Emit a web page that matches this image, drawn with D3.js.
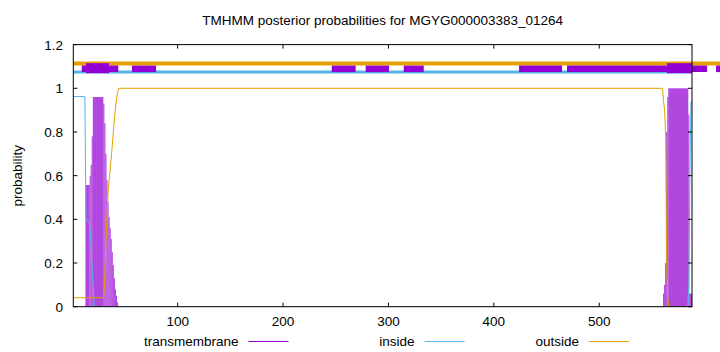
<!DOCTYPE html>
<html>
<head>
<meta charset="utf-8">
<script src="https://cdn.jsdelivr.net/npm/d3@7"></script>
<style>
  body { margin: 0; background: #fff; }
  svg { display: block; font-family: "Liberation Sans", Arial, sans-serif; }
</style>
</head>
<body>
<div id="chart"></div>
<script>
var chartTitle = "TMHMM posterior probabilities for MGYG000003383_01264";
var seqLength = 588;
var xTicks = [100, 200, 300, 400, 500];
var yTicks = [0, 0.2, 0.4, 0.6, 0.8, 1, 1.2];

/* transmembrane posterior, as runs of residues [from, to, value] */
var tmRuns = [
    [13, 16, 0.557], [17, 17, 0.60], [18, 18, 0.65], [19, 19, 0.78],
    [20, 29, 0.96], [30, 30, 0.93], [31, 31, 0.84], [32, 32, 0.70],
    [33, 33, 0.58], [34, 34, 0.48], [35, 35, 0.41], [36, 36, 0.36],
    [37, 37, 0.31], [38, 38, 0.25], [39, 39, 0.19], [40, 40, 0.13],
    [41, 41, 0.08], [42, 42, 0.05], [43, 43, 0.02],
    [561, 561, 0.06], [562, 562, 0.10], [563, 563, 0.20], [564, 564, 0.80],
    [565, 565, 0.96], [566, 584, 1.0], [585, 585, 0.88], [586, 588, 0.06]
];

/* inside / outside posterior, as [residue, value] points */
var insidePoints = [
    [1, 0.962], [12, 0.962], [13, 0.40], [16, 0.39], [17, 0.35], [18, 0.26],
    [19, 0.17], [20, 0.08], [21, 0], [584, 0], [585, 0.10], [586, 0.60],
    [587, 0.94], [588, 0.94]
];
var outsidePoints = [
    [1, 0.041], [29, 0.041], [30, 0.05], [31, 0.15], [32, 0.30], [33, 0.42],
    [34, 0.52], [35, 0.58], [36, 0.63], [37, 0.68], [38, 0.74], [39, 0.80],
    [40, 0.86], [41, 0.91], [42, 0.95], [43, 0.98], [44, 1.0], [560, 1.0],
    [561, 0.94], [562, 0.90], [563, 0.78], [564, 0.18], [565, 0.04], [566, 0],
    [588, 0]
];

/* predicted topology track drawn above the curves */
var outsideTrack = [[1, 615]];
var insideTrack = [[1, 588]];
var tmTrackThin = [
    [9, 43.7], [56.7, 79.5], [246.2, 268.9], [278.4, 300.5], [314.5, 333.5],
    [423.9, 464.7], [469.4, 602.3], [610.8, 615]
];
var tmTrackThick = [[13, 34.9], [564.3, 588]];

var legendNames = ["transmembrane", "inside", "outside"];

drawChart();

function drawChart() {
    var colors = { tm: "#9400d3", inside: "#56b4e9", outside: "#e69f00" };

    var W = 720, H = 352;
    var mLeft = 73.3, mRight = 692, mTop = 44.6, mBottom = 306.7;

    var svg = d3.select("#chart").append("svg")
        .attr("width", W).attr("height", H);

    var x = d3.scaleLinear().domain([1, seqLength]).range([mLeft, mRight]);
    var y = d3.scaleLinear().domain([0, 1.2]).range([mBottom, mTop]);

    svg.append("defs").append("clipPath").attr("id", "plot")
        .append("rect").attr("x", mLeft).attr("y", mTop)
        .attr("width", mRight - mLeft).attr("height", mBottom - mTop);

    var plot = svg.append("g").attr("clip-path", "url(#plot)");

    // transmembrane bars
    plot.selectAll("rect.tm")
        .data(tmRuns)
        .enter().append("rect")
        .attr("class", "tm")
        .attr("x", function(d) { return x(d[0] - 0.5); })
        .attr("width", function(d) { return x(d[1] + 0.5) - x(d[0] - 0.5); })
        .attr("y", function(d) { return y(d[2]); })
        .attr("height", function(d) { return y(0) - y(d[2]); })
        .attr("fill", colors.tm)
        .attr("fill-opacity", 0.72);

    var line = d3.line()
        .x(function(d) { return x(d[0]); })
        .y(function(d) { return y(d[1]); });

    plot.append("path").datum(insidePoints)
        .attr("d", line).attr("fill", "none")
        .attr("stroke", colors.inside).attr("stroke-width", 1);
    plot.append("path").datum(outsidePoints)
        .attr("d", line).attr("fill", "none")
        .attr("stroke", colors.outside).attr("stroke-width", 1);

    // topology track (not clipped, it runs past the border like the original)
    function track(data, level, color, width) {
        svg.append("g").selectAll("line")
            .data(data)
            .enter().append("line")
            .attr("x1", function(d) { return x(d[0]); })
            .attr("x2", function(d) { return x(d[1]); })
            .attr("y1", y(level)).attr("y2", y(level))
            .attr("stroke", color)
            .attr("stroke-width", width);
    }
    track(outsideTrack, 1.114, colors.outside, 4);
    track(insideTrack, 1.075, colors.inside, 3);
    track(tmTrackThin, 1.089, colors.tm, 6.5);
    track(tmTrackThick, 1.092, colors.tm, 10);

    // border
    svg.append("rect")
        .attr("x", mLeft).attr("y", mTop)
        .attr("width", mRight - mLeft).attr("height", mBottom - mTop)
        .attr("fill", "none").attr("stroke", "#000").attr("stroke-width", 1);

    // ticks, mirrored on all four sides
    var tickLen = 4;
    var g = svg.append("g").attr("stroke", "#000").attr("stroke-width", 1);
    xTicks.forEach(function(t) {
        g.append("line").attr("x1", x(t)).attr("x2", x(t))
            .attr("y1", mBottom).attr("y2", mBottom - tickLen);
        g.append("line").attr("x1", x(t)).attr("x2", x(t))
            .attr("y1", mTop).attr("y2", mTop + tickLen);
    });
    yTicks.forEach(function(t) {
        g.append("line").attr("x1", mLeft).attr("x2", mLeft + tickLen)
            .attr("y1", y(t)).attr("y2", y(t));
        g.append("line").attr("x1", mRight).attr("x2", mRight - tickLen)
            .attr("y1", y(t)).attr("y2", y(t));
    });

    svg.append("g").selectAll("text")
        .data(xTicks)
        .enter().append("text")
        .attr("x", function(d) { return x(d); })
        .attr("y", 326)
        .attr("text-anchor", "middle")
        .attr("font-size", 13.5)
        .text(function(d) { return d; });

    svg.append("g").selectAll("text")
        .data(yTicks)
        .enter().append("text")
        .attr("x", 63)
        .attr("y", function(d) { return y(d) + 5; })
        .attr("text-anchor", "end")
        .attr("font-size", 13.5)
        .text(function(d) { return d; });

    svg.append("text")
        .attr("transform", "translate(22," + ((mTop + mBottom) / 2) + ") rotate(-90)")
        .attr("text-anchor", "middle")
        .attr("font-size", 13.5)
        .text("probability");

    svg.append("text")
        .attr("x", (mLeft + mRight) / 2).attr("y", 25)
        .attr("text-anchor", "middle")
        .attr("font-size", 13.5)
        .text(chartTitle);

    // legend
    var legendEnds = [238.5, 414.6, 579];
    var legendColors = [colors.tm, colors.inside, colors.outside];
    legendNames.forEach(function(name, i) {
        svg.append("text")
            .attr("x", legendEnds[i]).attr("y", 346)
            .attr("text-anchor", "end")
            .attr("font-size", 13.5)
            .text(name);
        svg.append("line")
            .attr("x1", legendEnds[i] + 10).attr("x2", legendEnds[i] + 50)
            .attr("y1", 341.5).attr("y2", 341.5)
            .attr("stroke", legendColors[i]).attr("stroke-width", 1);
    });
}
</script>
</body>
</html>
